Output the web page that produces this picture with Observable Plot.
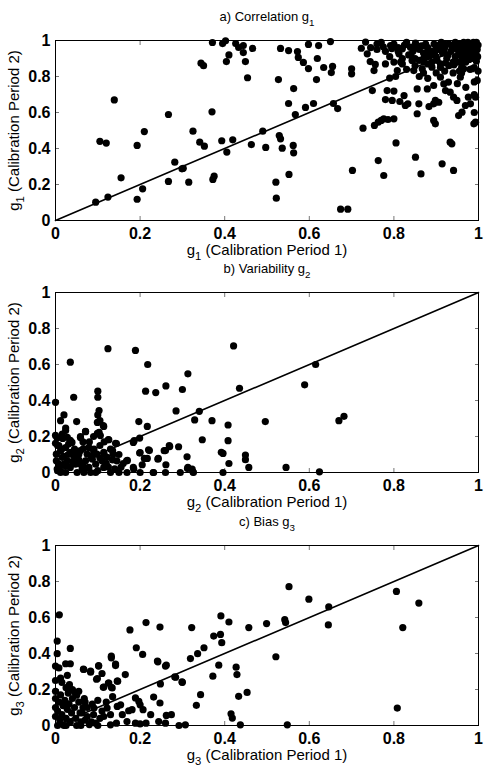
<!DOCTYPE html>
<html><head><meta charset="utf-8">
<script src="https://cdn.jsdelivr.net/npm/d3@7"></script>
<script src="https://cdn.jsdelivr.net/npm/@observablehq/plot@0.6"></script>
<style>
body{margin:0;background:#fff;}
#wrap{position:relative;width:485px;height:777px;background:#fff;}
#wrap svg{position:absolute;left:0;overflow:visible;}
</style></head>
<body><div id="wrap"></div>
<script>
const tickValues = [0, 0.2, 0.4, 0.6, 0.8, 1];
const diagonal = [[0, 0], [1, 1]];

const titles = ["a) Correlation g1", "b) Variability g2", "c) Bias g3"];
const xLabels = ["g1 (Calibration Period 1)", "g2 (Calibration Period 1)", "g3 (Calibration Period 1)"];
const yLabels = ["g1 (Calibration Period 2)", "g2 (Calibration Period 2)", "g3 (Calibration Period 2)"];

// [period 1, period 2]
const correlationPoints = [
[0.095,0.102],[0.124,0.13],[0.105,0.44],[0.12,0.43],[0.139,0.67],[0.155,0.237],[0.193,0.118],[0.193,0.417],[0.206,0.176],[0.21,0.494],
[0.267,0.589],[0.267,0.217],[0.282,0.324],[0.299,0.287],[0.302,0.29],[0.315,0.213],[0.325,0.496],[0.341,0.435],[0.352,0.413],[0.344,0.874],
[0.35,0.86],[0.37,0.604],[0.371,0.989],[0.372,0.228],[0.375,0.246],[0.393,0.443],[0.405,0.38],[0.419,0.448],[0.395,0.983],[0.402,0.998],
[0.41,0.92],[0.404,0.883],[0.426,0.983],[0.433,0.961],[0.444,0.972],[0.444,0.933],[0.449,0.883],[0.454,0.793],[0.463,0.422],[0.466,0.956],
[0.49,0.496],[0.497,0.406],[0.527,0.783],[0.532,0.956],[0.521,0.213],[0.522,0.124],[0.529,0.472],[0.532,0.454],[0.536,0.402],[0.551,0.65],
[0.552,0.256],[0.551,0.944],[0.563,0.733],[0.562,0.417],[0.563,0.376],[0.567,0.589],[0.572,0.939],[0.574,0.906],[0.586,0.878],[0.591,0.628],
[0.598,0.844],[0.598,0.978],[0.61,0.65],[0.617,0.783],[0.619,0.9],[0.622,0.972],[0.634,0.85],[0.65,0.994],[0.655,0.856],[0.652,0.822],
[0.657,0.65],[0.667,0.622],[0.674,0.063],[0.691,0.063],[0.70,0.843],[0.70,0.815],[0.702,0.278],[0.723,0.957],[0.727,0.513],[0.733,0.991],
[0.737,0.926],[0.744,0.883],[0.749,0.722],[0.753,0.833],[0.756,0.867],[0.754,0.528],[0.76,0.98],[0.763,0.333],[0.763,0.546],[0.77,0.556],
[0.776,0.565],[0.78,0.672],[0.784,0.722],[0.776,0.25],[0.786,0.561],[0.792,0.972],[0.79,0.791],[0.796,0.667],[0.8,0.719],[0.804,0.8],
[0.805,0.431],[0.8,0.565],[0.808,0.833],[0.812,0.926],[0.814,0.661],[0.816,0.88],[0.82,0.954],[0.824,0.694],[0.827,0.639],[0.833,0.648],
[0.839,0.963],[0.843,0.889],[0.847,0.833],[0.851,0.985],[0.855,0.731],[0.855,0.593],[0.859,0.648],[0.851,0.352],[0.864,0.259],[0.867,0.843],
[0.871,0.88],[0.875,0.98],[0.879,0.731],[0.883,0.633],[0.886,0.917],[0.89,0.852],[0.894,0.75],[0.894,0.556],[0.898,0.537],[0.898,0.667],
[0.894,0.648],[0.906,0.657],[0.914,0.315],[0.91,0.796],[0.918,0.759],[0.922,0.722],[0.929,0.769],[0.933,0.713],[0.933,0.435],[0.937,0.426],
[0.941,0.278],[0.941,0.685],[0.949,0.667],[0.953,0.583],[0.961,0.602],[0.957,0.796],[0.965,0.843],[0.969,0.639],[0.976,0.685],[0.981,0.648],
[0.985,0.843],[0.989,0.537],[0.993,0.546],[0.997,0.778],[0.993,0.685],
[0.86,0.95],[0.87,0.9],[0.88,0.96],[0.885,0.93],[0.89,0.88],[0.895,0.98],[0.9,0.91],[0.905,0.95],[0.91,0.87],[0.912,0.99],
[0.915,0.93],[0.92,0.96],[0.925,0.9],[0.93,0.98],[0.935,0.94],[0.94,0.97],[0.94,0.88],[0.945,0.99],[0.95,0.95],[0.952,0.92],
[0.955,0.98],[0.96,0.96],[0.962,0.9],[0.965,0.99],[0.968,0.94],[0.97,0.97],[0.972,0.92],[0.975,0.99],[0.978,0.95],[0.98,0.98],
[0.982,0.93],[0.985,0.96],[0.988,0.99],[0.99,0.94],[0.992,0.97],[0.995,0.99],[0.997,0.95],[0.998,0.91],[0.9,0.97],[0.87,0.93],
[0.86,0.89],[0.88,0.87],[0.91,0.85],[0.93,0.86],[0.95,0.88],[0.97,0.88],[0.985,0.9],[0.99,0.85],[0.96,0.85],[0.955,0.83],
[0.88,0.91],[0.875,0.97],[0.89,0.94],[0.92,0.98],[0.945,0.91],[0.835,0.92],[0.82,0.9],[0.85,0.9],[0.845,0.94],
[0.76,0.95],[0.78,0.94],[0.79,0.91],[0.8,0.98],[0.81,0.96],[0.83,0.99],[0.84,0.92],[0.77,0.99],[0.745,0.96],[0.78,0.87],
[0.8,0.88],[0.82,0.87],[0.83,0.84],[0.85,0.86],[0.86,0.8],[0.87,0.82],[0.88,0.79],[0.9,0.82],[0.92,0.83],[0.94,0.82],
[0.96,0.82],[0.98,0.84],[0.999,0.83],[0.99,0.77],[0.97,0.74],[0.95,0.76],[0.99,0.7],[0.99,0.6],
[0.865,0.97],[0.882,0.945],[0.896,0.935],[0.908,0.975],[0.918,0.945],[0.928,0.92],[0.938,0.955],[0.948,0.975],[0.958,0.94],[0.966,0.915],
[0.974,0.965],[0.983,0.945],[0.994,0.925],[0.999,0.975],[0.902,0.89],[0.922,0.875],[0.942,0.865],[0.962,0.875],[0.978,0.895],[0.995,0.885],
[0.852,0.96],[0.825,0.975],[0.81,0.94],[0.795,0.955],[0.775,0.965]
];

const variabilityPoints = [
[0.0,0.39],[0.035,0.613],[0.043,0.418],[0.124,0.688],[0.189,0.678],[0.218,0.6],[0.421,0.703],[0.615,0.6],[0.589,0.487],[0.67,0.288],
[0.682,0.312],[0.496,0.283],[0.435,0.468],[0.313,0.548],[0.3,0.461],[0.261,0.481],[0.237,0.444],[0.213,0.452],[0.285,0.342],[0.34,0.34],
[0.329,0.292],[0.37,0.288],[0.347,0.182],[0.408,0.177],[0.408,0.264],[0.41,0.05],[0.392,0.112],[0.396,0.106],[0.449,0.097],[0.449,0.071],
[0.457,0.028],[0.545,0.028],[0.624,0.004],[0.396,0.0],[0.311,0.087],[0.313,0.028],[0.323,0.019],[0.325,0.004],[0.295,0.0],[0.291,0.143],
[0.269,0.149],[0.257,0.121],[0.261,0.043],[0.242,0.074],[0.231,0.0],[0.26,0.0],[0.22,0.126],[0.217,0.256],[0.197,0.283],[0.199,0.191],
[0.186,0.177],[0.199,0.108],[0.21,0.078],[0.205,0.043],[0.2,0.0],[0.169,0.0],[0.185,0.019],[0.168,0.065],[0.142,0.162],[0.126,0.182],
[0.114,0.256],[0.103,0.344],[0.1,0.452],[0.1,0.418],[0.1,0.32],[0.105,0.288],[0.103,0.223],[0.106,0.205],[0.098,0.102],[0.114,0.112],
[0.122,0.084],[0.13,0.13],[0.136,0.102],[0.145,0.065],[0.15,0.0],[0.13,0.0],[0.114,0.028],[0.095,0.046],[0.083,0.0],[0.071,0.227],
[0.059,0.199],[0.05,0.283],[0.02,0.32],[0.012,0.288],[0.024,0.247],[0.016,0.214],[0.028,0.195],[0.004,0.191],[0.0,0.162],[0.008,0.149],
[0.024,0.139],[0.039,0.167],[0.059,0.121],[0.051,0.084],[0.075,0.102],[0.071,0.065],[0.087,0.074],[0.079,0.028],[0.063,0.019],[0.047,0.046],
[0.035,0.028],[0.028,0.065],[0.016,0.084],[0.008,0.046],[0.004,0.019],[0.012,0.0],[0.024,0.0],[0.035,0.112],[0.043,0.093],[0.059,0.046],
[0.02,0.046],[0.002,0.065],[0.002,0.102],[0.012,0.121],[0.031,0.158],[0.051,0.0],[0.067,0.0],[0.095,0.0],[0.11,0.065],[0.079,0.139],
[0.091,0.13],[0.099,0.278],[0.113,0.261],[0.071,0.228],[0.024,0.233],[0.059,0.194],[0.099,0.217],[0.125,0.183],[0.144,0.161],[0.184,0.167],
[0.0,0.206],[0.017,0.189],[0.035,0.178],[0.005,0.15],[0.066,0.133],[0.135,0.122],[0.17,0.067],[0.2,0.111],[0.217,0.078],[0.222,0.122],
[0.243,0.078],[0.26,0.122],[0.27,0.144],[0.184,0.028],[0.232,0.0],[0.312,0.022],[0.326,0.0],
[0.045,0.13],[0.055,0.1],[0.065,0.04],[0.085,0.09],[0.09,0.12],[0.105,0.08],[0.115,0.1],[0.125,0.03],[0.14,0.02],[0.155,0.03],
[0.16,0.05],[0.03,0.1],[0.04,0.06],[0.015,0.13],[0.025,0.035],[0.075,0.025],[0.1,0.01],[0.12,0.05],[0.135,0.07],[0.15,0.1],
[0.08,0.17],[0.09,0.2],[0.105,0.15],[0.115,0.17],[0.065,0.17],[0.005,0.01],[0.01,0.03],[0.02,0.09],[0.045,0.11],[0.055,0.07]
];

const biasPoints = [
[0.009,0.615],[0.004,0.469],[0.004,0.399],[0.035,0.428],[0.0,0.33],[0.008,0.32],[0.024,0.343],[0.035,0.343],[0.012,0.264],[0.028,0.279],
[0.033,0.227],[0.0,0.25],[0.045,0.186],[0.05,0.168],[0.067,0.311],[0.083,0.302],[0.099,0.261],[0.102,0.333],[0.11,0.289],[0.114,0.214],
[0.126,0.236],[0.132,0.376],[0.142,0.333],[0.146,0.246],[0.134,0.209],[0.165,0.283],[0.176,0.531],[0.191,0.432],[0.206,0.395],[0.214,0.572],
[0.242,0.354],[0.247,0.547],[0.248,0.231],[0.26,0.33],[0.282,0.27],[0.299,0.242],[0.322,0.544],[0.319,0.372],[0.336,0.399],[0.343,0.171],
[0.351,0.432],[0.333,0.112],[0.374,0.497],[0.39,0.506],[0.391,0.609],[0.393,0.46],[0.386,0.335],[0.372,0.274],[0.41,0.575],[0.427,0.324],
[0.429,0.283],[0.433,0.162],[0.453,0.184],[0.457,0.544],[0.415,0.065],[0.418,0.041],[0.437,0.004],[0.499,0.566],[0.521,0.382],[0.542,0.588],
[0.544,0.572],[0.552,0.771],[0.548,0.004],[0.599,0.702],[0.646,0.659],[0.645,0.559],[0.806,0.745],[0.821,0.544],[0.859,0.68],[0.808,0.097],
[0.189,0.153],[0.197,0.134],[0.2,0.115],[0.207,0.088],[0.181,0.088],[0.173,0.082],[0.169,0.022],[0.189,0.013],[0.2,0.009],[0.214,0.013],
[0.225,0.06],[0.247,0.125],[0.232,0.158],[0.244,0.022],[0.26,0.013],[0.262,0.056],[0.274,0.06],[0.292,0.0],[0.307,0.004],[0.146,0.106],
[0.154,0.115],[0.158,0.06],[0.144,0.013],[0.13,0.004],[0.122,0.097],[0.114,0.05],[0.095,0.013],[0.091,0.097],[0.087,0.119],[0.075,0.1],
[0.063,0.07],[0.07,0.03],[0.08,0.005],
[0.0,0.05],[0.0,0.1],[0.0,0.15],[0.0,0.19],[0.005,0.0],[0.005,0.08],[0.008,0.13],[0.01,0.03],[0.012,0.17],[0.015,0.06],
[0.018,0.11],[0.02,0.0],[0.022,0.14],[0.025,0.04],[0.028,0.09],[0.03,0.18],[0.032,0.12],[0.035,0.02],[0.038,0.07],[0.04,0.15],
[0.045,0.1],[0.048,0.04],[0.05,0.0],[0.055,0.13],[0.058,0.07],[0.06,0.02],[0.065,0.1],[0.068,0.15],[0.075,0.05],[0.085,0.02],
[0.09,0.06],[0.1,0.0],[0.105,0.04],[0.11,0.08],[0.04,0.2],[0.025,0.21],[0.015,0.24],[0.055,0.19],[0.07,0.13],[0.1,0.14],
[0.12,0.13],[0.13,0.06],[0.135,0.16],[0.06,0.0],[0.025,0.0],
[0.066,0.313],[0.083,0.296],[0.102,0.33],[0.097,0.257],[0.113,0.212],[0.132,0.212],[0.125,0.235],[0.147,0.246],[0.132,0.385],[0.142,0.341],
[0.284,0.268],[0.3,0.24],[0.241,0.358],[0.262,0.335]
];

const panelData = [correlationPoints, variabilityPoints, biasPoints];
const panelTops = [0, 252, 505];

const font = "'Liberation Sans', Arial, Helvetica, sans-serif";

function subscriptify(svg) {
  svg.querySelectorAll("text").forEach(t => {
    const s = t.textContent;
    const m = s.match(/^(.*?g)(\d)(.*)$/);
    if (!m) return;
    while (t.firstChild) t.removeChild(t.firstChild);
    const ns = "http://www.w3.org/2000/svg";
    const a = document.createElementNS(ns, "tspan"); a.textContent = m[1]; t.appendChild(a);
    const b = document.createElementNS(ns, "tspan"); b.textContent = m[2];
    b.setAttribute("dy", "5"); b.setAttribute("font-size", "0.75em"); t.appendChild(b);
    if (m[3]) {
      const c = document.createElementNS(ns, "tspan"); c.textContent = m[3];
      c.setAttribute("dy", "-5"); t.appendChild(c);
    }
  });
}

const wrap = document.getElementById("wrap");
panelData.forEach((pts, i) => {
  const svg = Plot.plot({
    width: 485, height: 260,
    marginTop: 40, marginBottom: 40, marginLeft: 55, marginRight: 7,
    style: {background: "transparent", fontFamily: font, overflow: "visible", color: "black"},
    x: {domain: [0, 1]},
    y: {domain: [0, 1]},
    marks: [
      Plot.axisX(tickValues, {anchor: "bottom", tickSize: -4, tickPadding: 11, stroke: "#777", fill: "black",
        fontSize: 16, fontWeight: "bold", tickFormat: d => String(d), label: null}),
      Plot.axisX(tickValues, {anchor: "top", tickSize: -4, stroke: "#777", fill: "none", label: null}),
      Plot.axisY(tickValues, {anchor: "left", tickSize: -4, tickPadding: 9, stroke: "#777", fill: "black",
        fontSize: 16, fontWeight: "bold", tickFormat: d => String(d), label: null}),
      Plot.axisY(tickValues, {anchor: "right", tickSize: -4, stroke: "#777", fill: "none", label: null}),
      Plot.frame({stroke: "black", strokeWidth: 1}),
      Plot.line(diagonal, {x: d => d[0], y: d => d[1], stroke: "black", strokeWidth: 1.6}),
      Plot.dot(pts, {x: d => d[0], y: d => d[1], r: 3.6, fill: "black"}),
      Plot.text([titles[i]], {text: d => d, frameAnchor: "top", textAnchor: "middle", dy: -20, lineAnchor: "bottom", fontSize: 13, fill: "black"}),
      Plot.text([xLabels[i]], {text: d => d, frameAnchor: "bottom", textAnchor: "middle", dy: 34, lineAnchor: "bottom", fontSize: 15, fill: "black"}),
      Plot.text([yLabels[i]], {text: d => d, frameAnchor: "left", textAnchor: "middle", dx: -37, rotate: -90, lineAnchor: "bottom", fontSize: 15, fill: "black"})
    ]
  });
  svg.style.top = panelTops[i] + "px";
  subscriptify(svg);
  wrap.appendChild(svg);
});
</script>
</body></html>
